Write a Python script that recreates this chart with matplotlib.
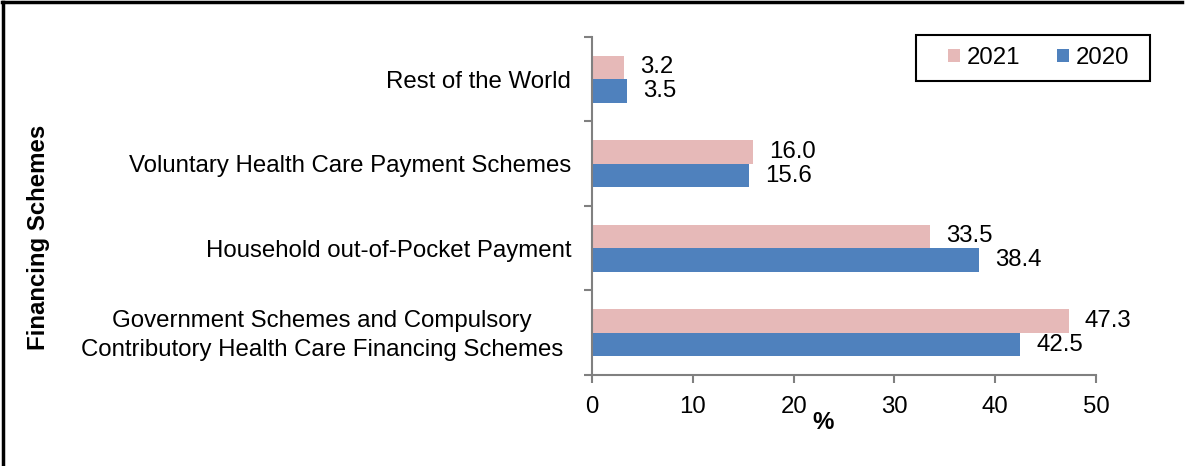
import numpy as np
import matplotlib
matplotlib.use("Agg")
import matplotlib.pyplot as plt
from matplotlib.lines import Line2D
from matplotlib.patches import Rectangle
from matplotlib.transforms import ScaledTranslation

# ── Data ─────────────────────────────────────────────────────────────
categories = [
    "Government Schemes and Compulsory\nContributory Health Care Financing Schemes",
    "Household out-of-Pocket Payment",
    "Voluntary Health Care Payment Schemes",
    "Rest of the World",
]
vals_2021 = [47.3, 33.5, 16.0, 3.2]
vals_2020 = [42.5, 38.4, 15.6, 3.5]

# ── Style ────────────────────────────────────────────────────────────
plt.rcParams.update({
    "font.family": "Liberation Sans",
    "font.size": 17.3,
})
PINK = "#E6B9B8"
BLUE = "#4F81BD"
GREY = "#808080"

W, H = 1186, 466
fig = plt.figure(figsize=(W / 100, H / 100), dpi=100)
ax = fig.add_axes([0.4992, 0.1953, 0.4250, 0.7253])

y = np.arange(len(categories))
h = 0.28
b21 = ax.barh(y + 0.14, vals_2021, h, color=PINK, label="2021")
b20 = ax.barh(y - 0.14, vals_2020, h, color=BLUE, label="2020")

# value labels to the right of each bar
for yi, v in zip(y, vals_2021):
    ax.annotate(f"{v:.1f}", (v, yi + 0.14), xytext=(11.5, 0),
                textcoords="offset points", va="center", ha="left")
for yi, v in zip(y, vals_2020):
    ax.annotate(f"{v:.1f}", (v, yi - 0.14), xytext=(11.5, 0),
                textcoords="offset points", va="center", ha="left")

ax.set_xlim(0, 50)
ax.set_ylim(-0.5, len(categories) - 0.5)
ax.set_xticks(np.arange(0, 51, 10))

ax.set_yticks(y)
ax.set_yticklabels(categories, multialignment="center", linespacing=1.38)
ax.set_yticks(np.arange(-0.5, len(categories), 1.0), minor=True)
ax.tick_params(axis="y", which="major", length=0, pad=15)
ax.tick_params(axis="y", which="minor", length=6, color=GREY, width=1.5)
ax.tick_params(axis="x", length=6, color=GREY, width=1.5, pad=9)

# the two-line label sits a little further left/up in the source
lbl = ax.get_yticklabels()[0]
lbl.set_transform(lbl.get_transform() + ScaledTranslation(-8 / 100, 3 / 100, fig.dpi_scale_trans))

for s in ["top", "right"]:
    ax.spines[s].set_visible(False)
for s in ["left", "bottom"]:
    ax.spines[s].set_color(GREY)
    ax.spines[s].set_linewidth(1.5)

ax.set_xlabel("%", fontweight="bold")
ax.xaxis.set_label_coords(0.458, -0.108)
ax.set_ylabel("Financing Schemes", fontweight="bold")
ax.yaxis.set_label_coords(-1.075, 0.408)

# legend: frameless, with a box drawn round it
fig.legend(handles=[b21, b20], ncol=2, loc="center left",
           bbox_to_anchor=(948 / W, 1 - 58 / H), frameon=False,
           handlelength=0.5, handleheight=0.5, handletextpad=0.3,
           columnspacing=1.5, borderpad=0, borderaxespad=0)
fig.add_artist(Rectangle((916 / W, 1 - 81 / H), 234 / W, 46 / H,
                         transform=fig.transFigure, fill=False,
                         edgecolor="black", lw=1.5))

# frame lines (top and left only)
fig.add_artist(Line2D([0.002, 0.997], [0.995, 0.995], color="black", lw=2.5,
                      transform=fig.transFigure))
fig.add_artist(Line2D([0.0027, 0.0027], [0.0, 0.995], color="black", lw=2.5,
                      transform=fig.transFigure))

fig.savefig("out.png", dpi=100)
plt.close()
